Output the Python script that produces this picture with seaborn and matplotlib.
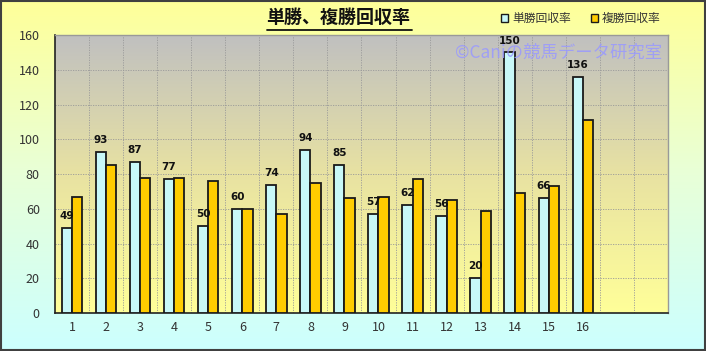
import numpy as np
import pandas as pd
import seaborn as sns
import matplotlib
matplotlib.use('Agg')
from matplotlib import pyplot as plt
from matplotlib.colors import LinearSegmentedColormap
from matplotlib.patches import Rectangle

# data
slots = list(range(1, 19))          # 16 used + 2 empty slots
umaban = list(range(1, 17))
win_rate = [49, 93, 87, 77, 50, 60, 74, 94, 85, 57, 62, 56, 20, 150, 66, 136]
place_rate = [67, 85, 78, 78, 76, 60, 57, 75, 66, 67, 77, 65, 59, 69, 73, 111]
series_names = ['単勝回収率', '複勝回収率']

df = pd.DataFrame({
    'umaban': umaban * 2,
    'rate': win_rate + place_rate,
    'kind': [series_names[0]] * 16 + [series_names[1]] * 16,
})

sns.set_theme(style='white')
plt.rcParams['font.family'] = ['Noto Sans CJK JP', 'DejaVu Sans']

fig = plt.figure(figsize=(7.06, 3.51), dpi=100)

# figure background gradient: yellow -> light cyan
bg = fig.add_axes([0, 0, 1, 1], zorder=-10)
bg_cmap = LinearSegmentedColormap.from_list('bg', ['#ccffff', '#e8ffd8', '#ffff99'])
bg.imshow(np.linspace(0, 1, 256).reshape(-1, 1), aspect='auto', cmap=bg_cmap,
          extent=[0, 1, 0, 1], origin='lower')
bg.set_axis_off()
bg.add_patch(Rectangle((0.001, 0.002), 0.997, 0.995, fill=False, ec='#404040', lw=1.5,
                       transform=bg.transAxes))

ax = fig.add_axes([0.078, 0.108, 0.868, 0.792])
# plot area gradient: yellow bottom -> grey top
pa_cmap = LinearSegmentedColormap.from_list('pa', ['#ffff99', '#e8e2a2', '#c0c0c0'])
ax.imshow(np.linspace(0, 1, 256).reshape(-1, 1), aspect='auto', cmap=pa_cmap,
          extent=[-0.5, 17.5, 0, 160], origin='lower', zorder=0)

sns.barplot(data=df, x='umaban', y='rate', hue='kind', order=slots,
            hue_order=series_names, palette=['#c8f8f8', '#ffcc00'],
            width=0.6, gap=0.0, edgecolor='#1a1a1a', linewidth=1.3,
            saturation=1, ax=ax, zorder=3)

for i, v in enumerate(win_rate):
    ax.text(i - 0.15, v + 4, str(v), ha='center', va='bottom', fontsize=7.5,
            fontweight='bold', color='#111111', family=['DejaVu Sans'], zorder=5)

ax.set_xlim(-0.5, 17.5)
ax.set_ylim(0, 160)
ax.set_yticks(range(0, 161, 20))
ax.set_xticks(range(18))
ax.set_xticklabels([str(s) if s <= 16 else '' for s in slots])
ax.tick_params(axis='both', length=0, labelsize=9, colors='#333333')
ax.tick_params(axis='x', pad=6)
ax.tick_params(axis='y', pad=11)
ax.set_xlabel('')
ax.set_ylabel('')

for y in range(20, 160, 20):
    ax.axhline(y, color='#999999', lw=0.6, ls=(0, (1.5, 1.5)), zorder=1)
for x in np.arange(0.5, 17.5, 1):
    ax.axvline(x, color='#999999', lw=0.6, ls=(0, (1.5, 1.5)), zorder=1)

for side in ['top', 'right']:
    ax.spines[side].set_color('#999999')
    ax.spines[side].set_linewidth(1)
for side in ['left', 'bottom']:
    ax.spines[side].set_color('#222222')
    ax.spines[side].set_linewidth(1.2)

ax.legend_.remove()
handles = [Rectangle((0, 0), 1, 1, fc=c, ec='#1a1a1a', lw=1) for c in ['#c8f8f8', '#ffcc00']]
fig.legend(handles, series_names, loc='upper left', bbox_to_anchor=(0.695, 0.995),
           ncol=2, frameon=False, fontsize=8.5, handlelength=0.6, handleheight=0.6,
           handletextpad=0.3, columnspacing=1.7, labelcolor='#333333')

fig.text(0.479, 0.922, '単勝、複勝回収率', ha='center', va='bottom', fontsize=13,
         fontweight='bold', color='#111111')
fig.add_artist(plt.Line2D([0.378, 0.584], [0.915, 0.915], color='#111111', lw=1.3))

# watermark sits between the 150 and 136 labels, as in the reference
ax.text(0.99, 0.968, '©Caniの競馬データ研究室', transform=ax.transAxes, ha='right',
        va='top', fontsize=12.5, color='#9999ff', alpha=0.85, zorder=6)

fig.savefig('out.png', dpi=100)
